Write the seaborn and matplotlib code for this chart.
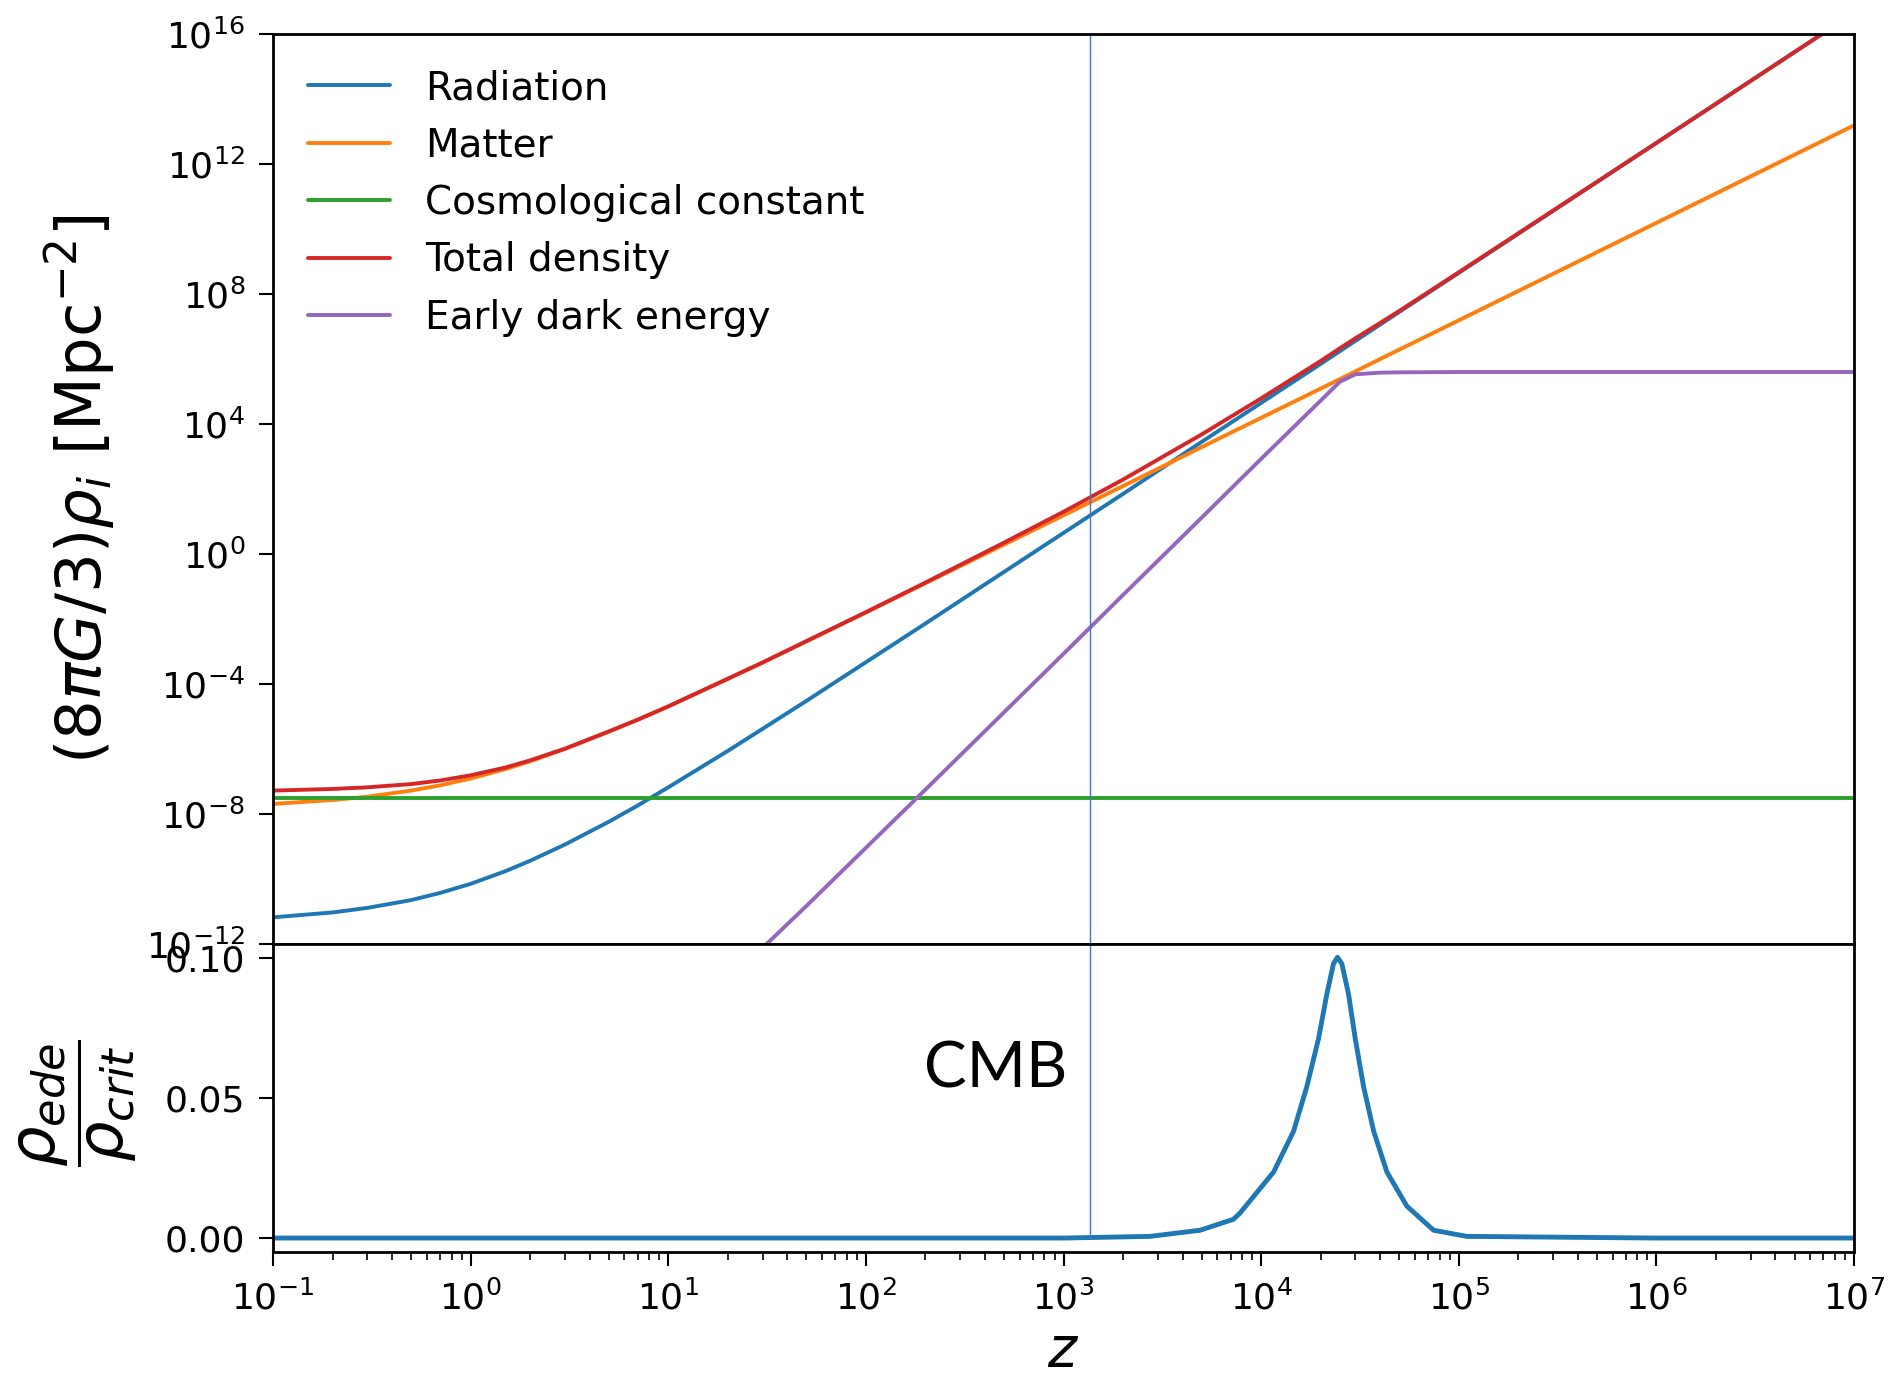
import numpy as np
import pandas as pd
import matplotlib
matplotlib.use("Agg")
import matplotlib.pyplot as plt
import seaborn as sns

# redshift grid used for the background densities
z = [0.1, 0.2, 0.3, 0.5, 0.7, 1, 1.5, 2, 3, 5, 7, 10, 20, 30, 50, 100, 200, 500,
     1e3, 2e3, 5e3, 1e4, 2e4, 2.5e4, 3e4, 4e4, 5e4, 1e5, 1e6, 1e7]

# log10 of (8 pi G / 3) rho_i in Mpc^-2
radiation_log = [-11.18, -11.03, -10.89, -10.65, -10.43, -10.15, -9.76, -9.44, -8.94, -8.24,
                 -7.74, -7.18, -6.06, -5.38, -4.52, -3.33, -2.14, -0.55, 0.65, 1.85,
                 3.45, 4.65, 5.85, 6.24, 6.56, 7.06, 7.45, 8.65, 12.65, 16.65]
matter_log = [-7.69, -7.57, -7.47, -7.28, -7.12, -6.91, -6.62, -6.38, -6.00, -5.47,
              -5.10, -4.69, -3.84, -3.34, -2.69, -1.80, -0.90, 0.29, 1.19, 2.09,
              3.29, 4.19, 5.09, 5.38, 5.62, 6.00, 6.29, 7.19, 10.19, 13.19]
lambda_log = [-7.5] * len(z)
total_log = [-7.28, -7.23, -7.18, -7.08, -6.97, -6.81, -6.57, -6.35, -5.99, -5.46,
             -5.10, -4.69, -3.84, -3.34, -2.68, -1.79, -0.88, 0.35, 1.30, 2.29,
             3.68, 4.79, 5.94, 6.33, 6.64, 7.11, 7.48, 8.67, 12.65, 16.65]

# early dark energy only shows up above z ~ 30
z_ede = [30, 50, 100, 200, 500, 1e3, 2e3, 5e3, 1e4, 2e4, 2.5e4, 3e4, 4e4, 5e4, 1e5, 1e6, 1e7]
ede_log = [-12.12, -10.83, -9.04, -7.25, -4.87, -3.07, -1.26, 1.12, 2.93, 4.72,
           5.30, 5.53, 5.58, 5.59, 5.60, 5.60, 5.60]

# fraction rho_ede / rho_crit (bottom panel)
z_frac = [0.1, 1e3, 2740, 4910, 7240, 7830, 11560, 14590, 17020, 19500, 21480, 23230,
          24320, 25590, 27670, 29920, 32960, 37070, 43250, 54580, 74470, 109600, 1e6, 1e7]
ede_frac = [0.0, 0.0, 0.0006, 0.0028, 0.0067, 0.0090, 0.0236, 0.0382, 0.0541, 0.0712,
            0.0871, 0.0981, 0.1003, 0.0980, 0.0871, 0.0712, 0.0541, 0.0382, 0.0236,
            0.0114, 0.0028, 0.0006, 0.0, 0.0]

z_cmb = 1355

labels = ["Radiation", "Matter", "Cosmological constant", "Total density", "Early dark energy"]
colors = ["#1f77b4", "#ff7f0e", "#2ca02c", "#d62728", "#9467bd"]

sns.set_style("ticks")
plt.rcParams["font.family"] = ["DejaVu Sans"]
plt.rcParams["mathtext.fontset"] = "dejavusans"
plt.rcParams["text.color"] = "black"
plt.rcParams["axes.labelcolor"] = "black"
plt.rcParams["xtick.color"] = "black"
plt.rcParams["ytick.color"] = "black"

fig = plt.figure(figsize=(18.96, 13.89), dpi=100)
ax1 = fig.add_axes([0.144, 0.3204, 0.8339, 0.6551])
ax2 = fig.add_axes([0.144, 0.0986, 0.8339, 0.2217], sharex=ax1)

# top panel: densities
series = [(z, radiation_log), (z, matter_log), (z, lambda_log), (z, total_log), (z_ede, ede_log)]
for (zz, vals), lab, col in zip(series, labels, colors):
    df = pd.DataFrame({"z": zz, "rho": 10.0 ** np.array(vals)})
    sns.lineplot(data=df, x="z", y="rho", ax=ax1, color=col, lw=2.8, label=lab, sort=False)

ax1.set_xscale("log")
ax1.set_yscale("log")
ax1.set_xlim(1e-1, 1e7)
ax1.set_ylim(1e-12, 1e16)
ax1.set_yticks([10.0 ** k for k in range(-12, 17, 4)])
ax1.yaxis.set_minor_locator(matplotlib.ticker.NullLocator())
ax1.tick_params(axis="x", which="both", length=0, labelbottom=False)
ax1.tick_params(axis="y", labelsize=26, length=10, width=1.5, pad=10)
ax1.set_xlabel("")
ax1.set_ylabel(r"$(8\pi G/3)\rho_i\ [\mathrm{Mpc}^{-2}]$", fontsize=45)
ax1.yaxis.set_label_coords(-0.098, 0.5)
ax1.axvline(z_cmb, color="#4472c4", lw=1.0)
ax1.legend(loc="upper left", frameon=False, fontsize=28, handlelength=2.1,
           labelspacing=0.5, handletextpad=0.9)

# bottom panel: EDE fraction
df_frac = pd.DataFrame({"z": z_frac, "frac": ede_frac})
sns.lineplot(data=df_frac, x="z", y="frac", ax=ax2, color="#1f77b4", lw=3.5, sort=False)
ax2.set_ylim(-0.005, 0.105)
ax2.set_yticks([0.0, 0.05, 0.10])
ax2.set_yticklabels(["0.00", "0.05", "0.10"])
ax2.axvline(z_cmb, ymin=0.045, ymax=1, color="#4472c4", lw=1.0)
ax2.tick_params(axis="both", which="major", labelsize=26, length=10, width=1.5, pad=10)
ax2.tick_params(axis="x", which="minor", length=6, width=1.2)
ax2.set_xlabel("$z$", fontsize=40, labelpad=6)
ax2.set_ylabel(r"$\dfrac{\rho_{ede}}{\rho_{crit}}$", fontsize=46)
ax2.yaxis.set_label_coords(-0.085, 0.484)
ax2.text(996 / 1896, 1 - 1070 / 1389, "CMB", transform=fig.transFigure,
         fontsize=46, family="Lato", ha="center", va="center")

for ax in (ax1, ax2):
    for sp in ax.spines.values():
        sp.set_visible(True)
        sp.set_linewidth(2)
        sp.set_color("black")

fig.savefig("out.png", dpi=100)
